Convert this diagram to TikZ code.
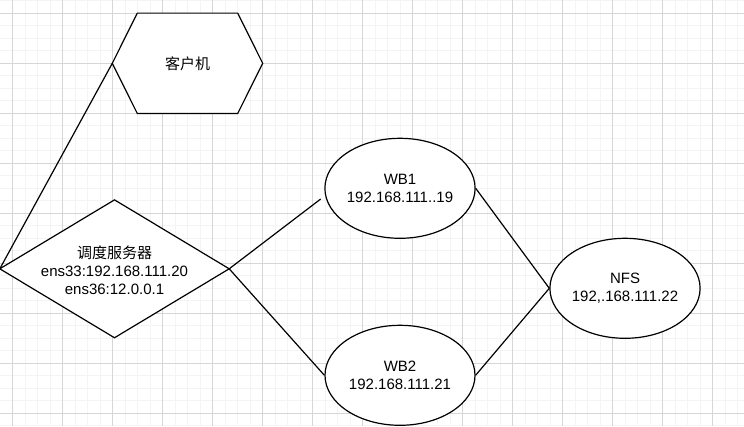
\documentclass[tikz,border=0pt]{standalone}
\usepackage{fontspec}
\setmainfont{Liberation Sans}
\newfontfamily\cjk{Noto Sans CJK SC}
\usetikzlibrary{shapes.geometric,calc}
\definecolor{minorgrid}{RGB}{244,244,244}
\definecolor{majorgrid}{RGB}{214,214,214}
\begin{document}
\begin{tikzpicture}[x=1pt,y=-1pt,
  minorline/.style={draw=minorgrid,line width=1pt},
  majorline/.style={draw=majorgrid,line width=1pt},
  shapeline/.style={draw=black,line width=1.2pt},
  edgeline/.style={draw=black,line width=1.2pt},
  lbl/.style={font=\fontsize{15}{18}\selectfont,align=center,text=black},
  boxarea/.style={lbl,draw=none,inner sep=0pt},
  ell/.style={lbl,ellipse,shapeline,fill=white,inner sep=0pt,minimum width=150pt,minimum height=100pt}]
\useasboundingbox (0,0) rectangle (744,426);
\fill[white] (0,0) rectangle (744,426);
% grid
\foreach \i in {0,...,59} \draw[minorline] (12.5+12.5*\i,0) -- (12.5+12.5*\i,426);
\foreach \i in {0,...,34} \draw[minorline] (0,0.8+12.5*\i) -- (744,0.8+12.5*\i);
\foreach \i in {0,...,14} \draw[majorline] (12.5+50*\i,0) -- (12.5+50*\i,426);
\foreach \i in {0,...,8} \draw[majorline] (0,13.3+50*\i) -- (744,13.3+50*\i);

% client hexagon
\node[boxarea,minimum width=150pt,minimum height=100pt] (client) at (187.5,63.3) {};
\fill[white] ($(client.north west)+(25,0)$) -- ($(client.north east)+(-25,0)$) -- (client.east) -- ($(client.south east)+(-25,0)$) -- ($(client.south west)+(25,0)$) -- (client.west) -- cycle;
\draw[shapeline] ($(client.north west)+(25,0)$) -- ($(client.north east)+(-25,0)$) -- (client.east) -- ($(client.south east)+(-25,0)$) -- ($(client.south west)+(25,0)$) -- (client.west) -- cycle;
\node[lbl] at (client.center) {\cjk 客户机};

% dispatcher diamond
\node[boxarea,minimum width=229pt,minimum height=137.5pt] (dd) at (114.5,268.8) {};
\fill[white] (dd.west) -- (dd.north) -- (dd.east) -- (dd.south) -- cycle;
\draw[shapeline] (dd.west) -- (dd.north) -- (dd.east) -- (dd.south) -- cycle;
\node[lbl] at ($(dd.center)+(0,1)$) {{\cjk 调度服务器}\\ens33:192.168.111.20\\ens36:12.0.0.1};

% ellipses
\node[ell] (wb1) at (400,188.3) {WB1\\192.168.111..19};
\node[ell] (wb2) at (400,375.3) {WB2\\192.168.111.21};
\node[ell] (nfs) at (625,288.3) {NFS\\192,.168.111.22};

\coordinate (wb1in) at (320.7,199);

% connectors
\draw[edgeline] (client.west) -- (dd.west);
\draw[edgeline] (dd.east) -- (wb1in);
\draw[edgeline] (dd.east) -- (wb2.west);
\draw[edgeline] (wb1.east) -- (nfs.west);
\draw[edgeline] (wb2.east) -- (nfs.west);
\end{tikzpicture}
\end{document}
